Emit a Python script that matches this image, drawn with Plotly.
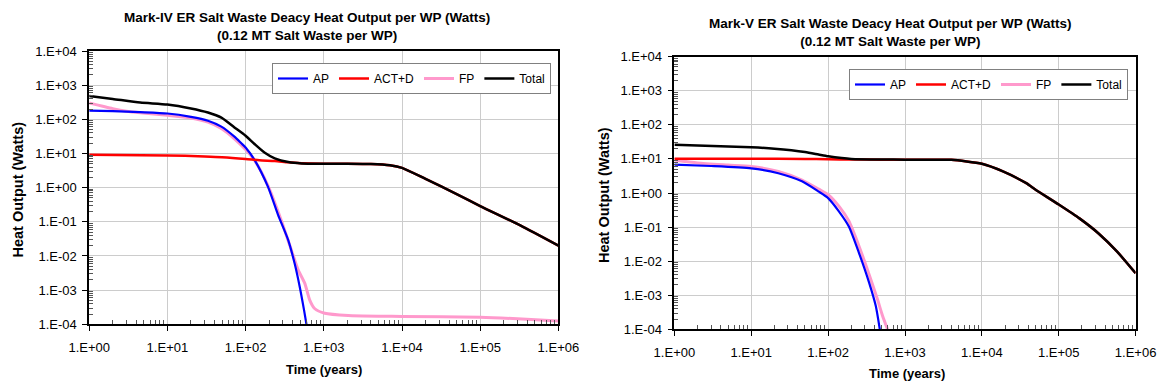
import plotly.graph_objects as go

# ---------------- data ----------------
# Mark-IV (left)
mk4_ap_t = [1, 2, 4.5, 10, 20, 33, 49, 72, 88, 100, 130, 193, 260, 349, 424, 492, 559, 600]
mk4_ap_w = [180, 174, 162, 148, 118, 91, 61, 31, 20, 15, 6.5, 1.07, 0.16, 0.03, 0.006, 0.00126, 0.00026, 0.0001]

mk4_act_t = [1, 10, 30, 50, 100, 150, 236, 350, 520, 1000, 2000, 4000, 7000, 1e4, 2e4, 5e4, 1e5, 3.3e5, 1e6]
mk4_act_w = [9.2, 8.8, 8.2, 7.8, 6.9, 6.3, 6.0, 5.5, 5.2, 5.0, 5.0, 4.9, 4.5, 3.8, 1.8, 0.65, 0.29, 0.077, 0.02]

mk4_fp_t = [1, 2, 3, 4.5, 10, 20, 33, 49, 72, 100, 130, 193, 286, 385, 470, 570, 661, 762, 1030,
            2050, 5300, 1e4, 1e5, 3e5, 1e6]
mk4_fp_w = [300, 205, 172, 155, 132, 110, 83, 54, 27, 13, 6.3, 1.15, 0.11, 0.0148, 0.0039, 0.0016,
            5.1e-4, 2.9e-4, 2.1e-4, 1.8e-4, 1.72e-4, 1.7e-4, 1.6e-4, 1.45e-4, 1.25e-4]

mk4_tot_t = [1, 2, 4.5, 10, 20, 33, 49, 72, 100, 130, 176, 236, 351, 520, 1000, 2000, 4000, 7000,
             1e4, 2e4, 5e4, 1e5, 3.3e5, 1e6]
mk4_tot_w = [480, 395, 310, 272, 208, 158, 112, 58, 33, 19, 10.5, 7.2, 5.6, 5.1, 5.0, 5.0, 4.9, 4.5,
             3.8, 1.8, 0.65, 0.29, 0.077, 0.02]

# Mark-V (right)
mk5_ap_t = [1, 3, 10, 22.5, 45.7, 75.3, 100, 138, 186, 253, 342, 417, 470]
mk5_ap_w = [6.8, 6.2, 5.3, 3.8, 2.2, 1.1, 0.71, 0.29, 0.104, 0.017, 0.0023, 4.8e-4, 1e-4]

mk5_act_t = [1, 10, 50, 100, 200, 500, 1000, 2000, 4000, 1e4, 1.88e4, 3.78e4, 5e4, 1e5, 1.86e5,
             3.3e5, 5.75e5, 1e6]
mk5_act_w = [10.2, 10.1, 10.0, 9.8, 9.6, 9.5, 9.5, 9.5, 9.4, 7.2, 4.3, 1.94, 1.25, 0.46, 0.18,
             0.065, 0.019, 0.0044]

mk5_fp_t = [1, 2, 5, 10, 22.5, 45.7, 75.3, 100, 138, 186, 253, 342, 438, 510, 593]
mk5_fp_w = [9.3, 7.6, 6.6, 6.0, 4.3, 2.4, 1.3, 0.89, 0.41, 0.15, 0.027, 0.004, 7.6e-4, 2.5e-4, 1e-4]

mk5_tot_t = [1, 10, 20, 50, 75, 100, 150, 200, 500, 1000, 2000, 4000, 1e4, 1.88e4, 3.78e4, 5e4,
             1e5, 1.86e5, 3.3e5, 5.75e5, 1e6]
mk5_tot_w = [26, 22, 20, 16, 13.5, 12, 10.6, 10.0, 9.6, 9.5, 9.5, 9.4, 7.2, 4.3, 1.94, 1.25,
             0.46, 0.18, 0.065, 0.019, 0.0044]

series_names = ["AP", "ACT+D", "FP", "Total"]
series_colors = ["#0000FF", "#FF0000", "#FF99CC", "#000000"]

x_tickvals = [1, 10, 100, 1000, 1e4, 1e5, 1e6]
x_ticktext = ["1.E+00", "1.E+01", "1.E+02", "1.E+03", "1.E+04", "1.E+05", "1.E+06"]
y_tickvals = [1e-4, 1e-3, 1e-2, 1e-1, 1, 10, 100, 1000, 1e4]
y_ticktext = ["1.E-04", "1.E-03", "1.E-02", "1.E-01", "1.E+00", "1.E+01", "1.E+02", "1.E+03", "1.E+04"]

title_left = "Mark-IV ER Salt Waste Deacy Heat Output per WP (Watts)<br>(0.12 MT Salt Waste per WP)"
title_right = "Mark-V ER Salt Waste Deacy Heat Output per WP (Watts)<br>(0.12 MT Salt Waste per WP)"
x_title = "Time (years)"
y_title = "Heat Output (Watts)"

# ---------------- figure ----------------
W, H = 1157, 386
FONT = "Liberation Sans, Arial, sans-serif"

fig = go.Figure()

def add_series(t_list, w_list, name, color, width, xa, ya, legend, rank):
    fig.add_trace(go.Scatter(
        x=t_list, y=w_list, name=name, mode="lines",
        line=dict(color=color, width=width, shape="spline", smoothing=0.6),
        xaxis=xa, yaxis=ya, legend=legend, legendrank=rank,
    ))

for (data, xa, ya, lg) in [
    ((mk4_ap_t, mk4_ap_w, mk4_act_t, mk4_act_w, mk4_fp_t, mk4_fp_w, mk4_tot_t, mk4_tot_w), "x", "y", "legend"),
    ((mk5_ap_t, mk5_ap_w, mk5_act_t, mk5_act_w, mk5_fp_t, mk5_fp_w, mk5_tot_t, mk5_tot_w), "x2", "y2", "legend2"),
]:
    ap_t, ap_w, act_t, act_w, fp_t, fp_w, tot_t, tot_w = data
    add_series(fp_t, fp_w, series_names[2], series_colors[2], 3, xa, ya, lg, 3)
    add_series(ap_t, ap_w, series_names[0], series_colors[0], 2.2, xa, ya, lg, 1)
    add_series(act_t, act_w, series_names[1], series_colors[1], 2.5, xa, ya, lg, 2)
    add_series(tot_t, tot_w, series_names[3], series_colors[3], 2.5, xa, ya, lg, 4)

minor_vals = [m * 10 ** e for e in range(-4, 6) for m in range(2, 10)]

def xaxis_cfg(domain, anchor):
    return dict(
        type="log", range=[0, 6], domain=domain, anchor=anchor, automargin=False,
        tickvals=x_tickvals, ticktext=x_ticktext,
        tickfont=dict(family=FONT, size=13, color="#000"),
        ticks="outside", ticklen=5, tickcolor="#000", tickwidth=1,
        ticklabelstandoff=5,
        showgrid=True, gridcolor="#CCCCCC", gridwidth=1,
        showline=True, linecolor="#000", linewidth=2, mirror=True,
        minor=dict(tickvals=[v for v in minor_vals if 1 <= v <= 1e6], ticks="inside",
                   ticklen=4, tickcolor="#555", showgrid=False),
        zeroline=False,
    )

def yaxis_cfg(domain, anchor):
    return dict(
        type="log", range=[-4, 4], domain=domain, anchor=anchor, automargin=False,
        tickvals=y_tickvals, ticktext=y_ticktext,
        tickfont=dict(family=FONT, size=13, color="#000"),
        ticks="outside", ticklen=5, tickcolor="#000", tickwidth=1,
        ticklabelstandoff=3,
        showgrid=True, gridcolor="#CCCCCC", gridwidth=1,
        showline=True, linecolor="#000", linewidth=1.5, mirror=True,
        minor=dict(tickvals=[v for v in minor_vals if 1e-4 <= v <= 1e4], ticks="inside",
                   ticklen=4, tickcolor="#555", showgrid=False),
        zeroline=False,
    )

def px_x(p):
    return p / W

def px_y(p):
    return (H - p) / H

fig.update_layout(
    template="none",
    width=W, height=H,
    margin=dict(l=0, r=0, t=0, b=0, autoexpand=False),
    paper_bgcolor="#FFFFFF", plot_bgcolor="#FFFFFF",
    font=dict(family=FONT, color="#000"),
    xaxis=xaxis_cfg([px_x(89.2), px_x(558.4)], "y"),
    yaxis=yaxis_cfg([px_y(324.3), px_y(51)], "x"),
    xaxis2=xaxis_cfg([px_x(674.4), px_x(1135.6)], "y2"),
    yaxis2=yaxis_cfg([px_y(329.3), px_y(56.7)], "x2"),
    legend=dict(orientation="h", x=px_x(551), xanchor="right", y=px_y(63), yanchor="top",
                bgcolor="#FFFFFF", bordercolor="#808080", borderwidth=1,
                font=dict(family=FONT, size=12, color="#000"), itemwidth=30,
                traceorder="normal"),
    legend2=dict(orientation="h", x=px_x(1128), xanchor="right", y=px_y(69), yanchor="top",
                 bgcolor="#FFFFFF", bordercolor="#808080", borderwidth=1,
                 font=dict(family=FONT, size=12, color="#000"), itemwidth=30,
                 traceorder="normal"),
    showlegend=True,
    hovermode=False,
)

ann_font_title = dict(family=FONT, size=13.5, color="#000")
ann_font_x = dict(family=FONT, size=13, color="#000")
ann_font_y = dict(family=FONT, size=14.5, color="#000")
annotations = [
    dict(text="<b>" + title_left.replace("<br>", "</b><br><b>") + "</b>", x=px_x(306.7), y=px_y(26.7),
         xref="paper", yref="paper", xanchor="center", yanchor="middle", showarrow=False, font=ann_font_title),
    dict(text="<b>" + title_right.replace("<br>", "</b><br><b>") + "</b>", x=px_x(890), y=px_y(32.5),
         xref="paper", yref="paper", xanchor="center", yanchor="middle", showarrow=False, font=ann_font_title),
    dict(text="<b>" + x_title + "</b>", x=px_x(324), y=px_y(369), xref="paper", yref="paper",
         xanchor="center", yanchor="middle", showarrow=False, font=ann_font_x),
    dict(text="<b>" + x_title + "</b>", x=px_x(906.5), y=px_y(373), xref="paper", yref="paper",
         xanchor="center", yanchor="middle", showarrow=False, font=ann_font_x),
    dict(text="<b>" + y_title + "</b>", x=px_x(17.5), y=px_y(190), xref="paper", yref="paper",
         xanchor="center", yanchor="middle", showarrow=False, textangle=-90, font=ann_font_y),
    dict(text="<b>" + y_title + "</b>", x=px_x(604), y=px_y(195), xref="paper", yref="paper",
         xanchor="center", yanchor="middle", showarrow=False, textangle=-90, font=ann_font_y),
]
fig.update_layout(annotations=annotations)

fig.write_html("out.html", config={"displayModeBar": False},
               post_script="document.body.style.margin='0px';")
